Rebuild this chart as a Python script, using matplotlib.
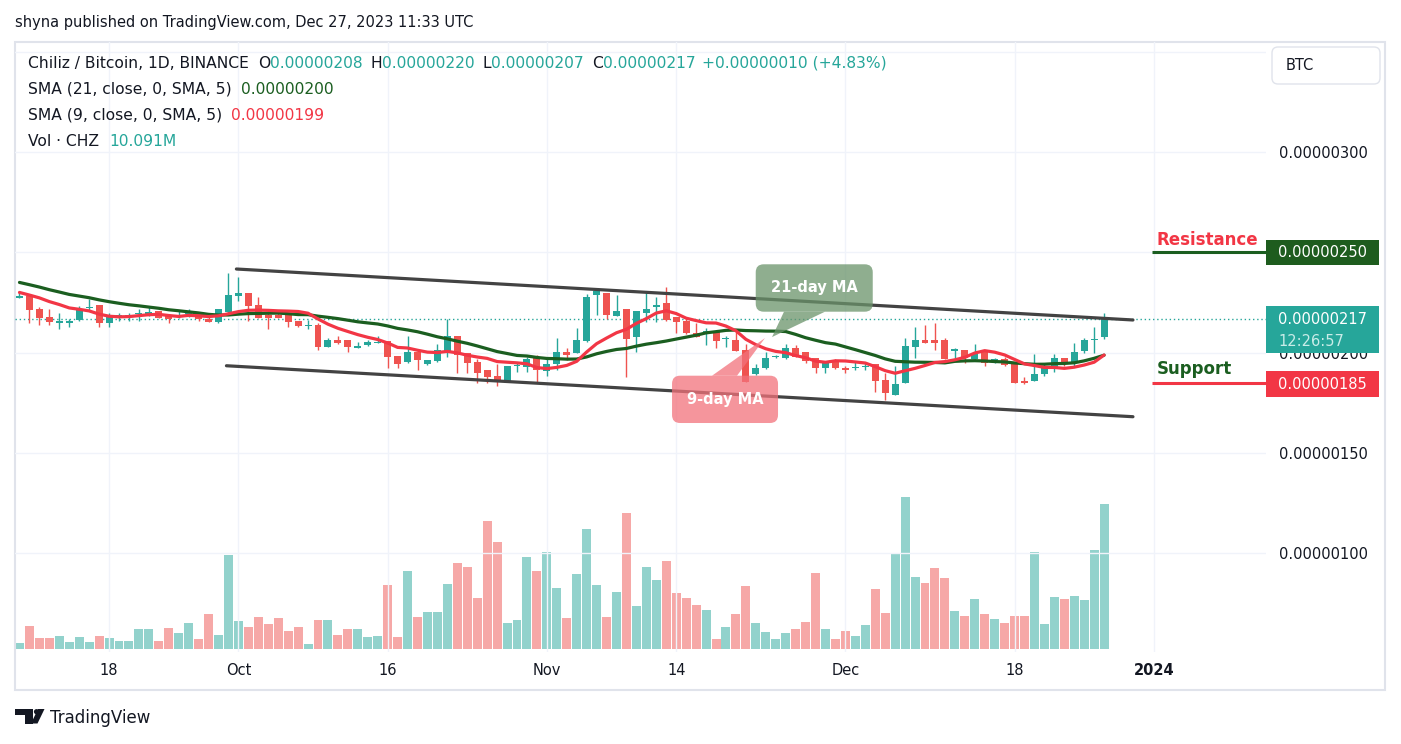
import numpy as np
import pandas as pd
import matplotlib
matplotlib.use("Agg")
import matplotlib.pyplot as plt
from matplotlib.patches import FancyBboxPatch, Polygon, Rectangle, Circle
from matplotlib.transforms import Affine2D
from matplotlib.ticker import FuncFormatter

plt.rcParams['font.family'] = ['DejaVu Sans']

# ---- data (prices in satoshi, 1e-8 BTC; volume in millions of CHZ) ----
start = "2023-09-09"
open_ = [227.5, 228.2, 221.8, 217.8, 214.6, 214.6, 216.3, 222.2, 224.0, 214.6,
         218.0, 218.0, 219.1, 219.5, 220.8, 218.8, 218.0, 219.1, 219.9, 216.8,
         215.3, 220.4, 228.4, 229.7, 223.8, 218.8, 218.8, 218.8, 215.8, 213.5,
         213.8, 203.0, 206.3, 206.3, 202.2, 203.8, 205.0, 206.0, 198.4, 195.2,
         200.5, 194.2, 196.0, 201.0, 208.3, 199.7, 195.5, 191.4, 188.4, 186.0,
         193.4, 193.0, 197.5, 191.0, 194.2, 200.3, 200.0, 205.8, 228.8, 229.6,
         218.4, 221.8, 207.7, 219.6, 222.6, 224.9, 217.9, 215.8, 209.7, 209.3,
         210.5, 206.8, 206.3, 201.3, 189.4, 192.2, 198.0, 197.2, 202.2, 200.5,
         197.2, 192.2, 195.5, 192.5, 192.5, 193.0, 194.2, 186.4, 178.9, 185.0,
         203.0, 206.3, 206.3, 206.3, 201.2, 201.3, 196.7, 200.5, 196.4, 196.7,
         195.4, 186.0, 186.0, 189.2, 192.2, 197.2, 195.0, 201.0, 206.3, 208.0]
high = [230.0, 228.5, 223.0, 221.8, 219.6, 216.8, 223.4, 226.7, 224.0, 219.6,
        219.6, 219.6, 221.8, 223.4, 220.8, 218.8, 221.3, 221.6, 220.4, 218.6,
        221.8, 239.6, 237.9, 229.7, 227.9, 221.3, 221.3, 218.8, 215.8, 216.3,
        214.6, 207.2, 208.3, 206.3, 205.5, 206.3, 208.3, 206.0, 198.4, 208.3,
        200.5, 196.4, 204.3, 216.6, 208.3, 199.7, 197.0, 191.4, 194.4, 193.4,
        194.7, 198.0, 198.9, 198.0, 207.2, 202.2, 212.5, 229.1, 232.4, 229.6,
        228.8, 221.8, 220.8, 230.7, 227.9, 232.9, 217.9, 216.6, 215.0, 212.2,
        210.5, 208.5, 210.5, 204.2, 194.4, 200.5, 198.8, 204.2, 203.8, 200.5,
        197.2, 195.5, 196.7, 193.4, 195.5, 195.5, 194.2, 189.7, 193.4, 207.2,
        213.0, 213.8, 215.0, 207.2, 202.2, 201.3, 204.2, 201.2, 197.2, 198.0,
        195.4, 188.0, 199.2, 194.7, 199.2, 197.6, 204.7, 207.2, 213.0, 220.0]
low = [227.3, 215.0, 213.8, 213.8, 211.8, 213.0, 215.8, 220.9, 213.0, 213.0,
       216.0, 216.0, 216.0, 218.4, 217.4, 215.0, 217.1, 217.9, 215.8, 215.3,
       215.0, 219.8, 225.9, 216.0, 217.4, 211.8, 217.4, 213.0, 213.0, 211.8,
       201.3, 202.6, 204.3, 200.5, 202.2, 203.3, 204.7, 192.5, 192.2, 194.8,
       191.4, 193.9, 195.5, 197.7, 189.7, 189.7, 185.0, 185.0, 183.4, 186.0,
       190.5, 190.5, 185.5, 188.4, 191.4, 196.4, 200.0, 205.3, 218.8, 216.6,
       218.4, 187.8, 200.5, 215.5, 215.5, 215.8, 209.7, 209.3, 208.0, 203.8,
       202.5, 202.7, 200.8, 185.5, 188.9, 191.7, 197.2, 196.9, 197.7, 194.7,
       189.7, 190.0, 192.0, 189.7, 191.4, 191.4, 180.5, 176.4, 178.9, 185.0,
       197.5, 204.7, 201.3, 196.7, 196.4, 194.7, 196.7, 193.4, 194.7, 193.4,
       184.8, 184.6, 186.0, 188.5, 190.5, 193.4, 192.7, 200.0, 199.7, 207.0]
close = [228.2, 221.3, 217.4, 215.3, 215.8, 215.8, 221.8, 222.8, 214.6, 218.8,
         218.5, 218.5, 219.6, 220.0, 217.4, 216.6, 218.5, 219.6, 216.6, 215.3,
         221.8, 228.7, 229.7, 223.4, 217.4, 217.4, 217.4, 215.5, 213.5, 214.0,
         203.0, 206.3, 205.0, 203.0, 203.3, 205.5, 205.5, 198.0, 194.2, 200.2,
         196.4, 196.4, 201.3, 208.3, 198.9, 195.0, 190.0, 188.0, 186.0, 193.4,
         193.6, 197.0, 191.4, 194.4, 200.3, 198.9, 206.3, 227.9, 230.7, 218.8,
         220.8, 207.0, 220.8, 221.8, 223.8, 216.3, 215.5, 210.0, 208.0, 210.8,
         206.0, 207.2, 200.8, 185.5, 192.2, 197.2, 198.2, 202.2, 198.0, 196.0,
         192.2, 195.5, 192.2, 191.4, 192.8, 193.4, 186.0, 180.0, 184.4, 203.3,
         206.3, 205.0, 205.0, 196.7, 201.4, 197.2, 199.2, 195.0, 196.6, 193.9,
         184.8, 185.0, 189.2, 193.0, 197.2, 195.0, 200.3, 206.3, 206.6, 217.0]
volume_m = [0.42, 1.60, 0.77, 0.77, 0.90, 0.49, 0.84, 0.49, 0.90, 0.77,
            0.56, 0.56, 1.39, 1.39, 0.56, 1.46, 1.11, 1.81, 0.70, 2.44,
            0.97, 6.54, 1.95, 1.53, 2.23, 1.74, 2.16, 1.25, 1.53, 0.35,
            2.02, 2.02, 0.97, 1.39, 1.39, 0.84, 0.90, 4.45, 0.84, 5.43,
            2.23, 2.57, 2.57, 4.52, 5.98, 5.71, 3.55, 8.91, 7.45, 1.81,
            2.02, 6.40, 5.43, 6.75, 4.24, 2.16, 5.22, 8.35, 4.45, 2.23,
            3.97, 9.46, 2.99, 5.71, 4.80, 6.12, 3.90, 3.55, 3.06, 2.71,
            0.70, 1.53, 2.44, 4.38, 1.81, 1.18, 0.70, 1.11, 1.39, 1.88,
            5.29, 1.39, 0.70, 1.25, 0.90, 1.67, 4.18, 2.51, 6.68, 10.58,
            5.01, 4.59, 5.64, 4.94, 2.64, 2.30, 3.48, 2.44, 2.09, 1.81,
            2.30, 2.30, 6.75, 1.74, 3.62, 3.48, 3.69, 3.41, 6.89, 10.091]
# closes before the visible window, only used to warm up the moving averages
pre_close = [245, 242, 243, 240, 241, 239, 240, 237, 238, 235,
             234, 231, 233, 230, 232, 229, 231, 228, 230, 229]

tick_dates = ["2023-09-18", "2023-10-01", "2023-10-16", "2023-11-01",
              "2023-11-14", "2023-12-01", "2023-12-18", "2024-01-01"]
tick_labels = ["18", "Oct", "16", "Nov", "14", "Dec", "18", "2024"]

resistance = 250
support = 185
last_price = 217
upper_x, upper_y = [21.8, 111.9], [241.7, 216.3]
lower_x, lower_y = [20.8, 111.9], [193.5, 168.1]

# ---- styles ----
TEAL, RED = '#26a69a', '#ef5350'
MA_RED, MA_GREEN = '#f23645', '#1b5e20'
TXT, GRID, FRAME = '#131722', '#f0f3fa', '#e0e3eb'

W, H = 1401, 744
fig = plt.figure(figsize=(W / 100, H / 100), dpi=100)
pix = Affine2D().scale(1, -1).translate(0, H)  # pixel coords, origin top-left

L, R, T, B = 15, 1266, 42, 652
ax = fig.add_axes([L / W, 1 - B / H, (R - L) / W, (B - T) / H])
axv = ax.twinx()
ax.set_zorder(axv.get_zorder() + 1)
ax.patch.set_visible(False)

x = np.arange(len(close))
o, h, l, c = map(np.array, (open_, high, low, close))
up = c >= o
col = np.where(up, TEAL, RED)

# volume
axv.bar(x, volume_m, 0.9, color=col, alpha=0.5, lw=0)
axv.set_ylim(-0.21, 42.24)
axv.set_yticks([])
for s in axv.spines.values():
    s.set_visible(False)

# candles
ax.vlines(x, l, h, color=col, lw=1, zorder=3)
body = np.abs(c - o)
doji = body < 0.6
bottom = np.where(doji, (o + c) / 2 - 0.3, np.minimum(o, c))
ax.bar(x, np.where(doji, 0.6, body), 0.7, bottom=bottom, color=col, lw=0, zorder=4)

# moving averages
allc = pd.Series(pre_close + close)
n0 = len(pre_close)
sma21 = allc.rolling(21).mean().iloc[n0:].to_numpy()
sma9 = allc.rolling(9).mean().iloc[n0:].to_numpy()
ax.plot(x, sma21, color=MA_GREEN, lw=2.3, zorder=5, solid_capstyle='round')
ax.plot(x, sma9, color=MA_RED, lw=2.3, zorder=5, solid_capstyle='round')

# channel
ax.plot(upper_x, upper_y, color='#434343', lw=2.3, zorder=6, solid_capstyle='round')
ax.plot(lower_x, lower_y, color='#434343', lw=2.3, zorder=6, solid_capstyle='round')

# last price
ax.axhline(last_price, color=TEAL, lw=1, ls=(0, (1, 2)), zorder=2)

xmax = 125.27
ax.set_xlim(-0.45, xmax)
ax.set_ylim(50.87, 354.81)

# support / resistance
ax.hlines(resistance, 113.8, xmax, color=MA_GREEN, lw=2.2, zorder=6)
ax.hlines(support, 113.8, xmax, color=MA_RED, lw=2.2, zorder=6)
ax.text(114.3, 256.3, "Resistance", color=MA_RED, fontsize=12, fontweight='bold',
        va='center', ha='left', zorder=7)
ax.text(114.3, 192.0, "Support", color=MA_GREEN, fontsize=12, fontweight='bold',
        va='center', ha='left', zorder=7)

# callouts
asp = 4.96
def callout(x0, x1, y0, y1, tail, text, color):
    box = FancyBboxPatch((x0, y0), x1 - x0, y1 - y0,
                         boxstyle="round,pad=0,rounding_size=0.8",
                         mutation_aspect=asp, fc=color, ec='none', alpha=0.75, zorder=8)
    ax.add_patch(box)
    ax.add_patch(Polygon(tail, closed=True, fc=color, ec='none', alpha=0.75, zorder=8))
    ax.text((x0 + x1) / 2, (y0 + y1) / 2, text, color='white', fontsize=10.5,
            fontweight='bold', ha='center', va='center', zorder=9)

callout(73.99, 85.75, 220.43, 244.05,
        [(76.83, 220.43), (80.95, 220.43), (75.63, 207.8)], "21-day MA", '#6a936a')
callout(65.58, 76.23, 164.97, 188.54,
        [(69.6, 188.54), (72.11, 188.54), (74.92, 207.3)], "9-day MA", '#f2727b')

# axes styling
for s in ax.spines.values():
    s.set_visible(False)
ax.yaxis.tick_right()
ax.set_yticks([100, 150, 200, 250, 300, 350])
ax.yaxis.set_major_formatter(FuncFormatter(lambda v, p: f"{v / 1e8:.8f}" if v < 320 else ""))
ax.tick_params(axis='y', length=0, pad=9.4, labelsize=10.5, labelcolor=TXT)
tick_idx = (pd.to_datetime(tick_dates) - pd.Timestamp(start)).days
ax.set_xticks(tick_idx, tick_labels)
ax.tick_params(axis='x', length=0, pad=8, labelsize=10.5, labelcolor=TXT)
ax.get_xticklabels()[-1].set_fontweight('bold')
ax.grid(color=GRID, lw=1)

# price-scale labels
ytf = ax.get_yaxis_transform()
def price_box(y0, y1, color):
    ax.add_patch(Rectangle((1.0, y0), 0.0903, y1 - y0, transform=ytf, fc=color,
                           ec='none', clip_on=False, zorder=10))
price_box(243.7, 256.2, '#1e5c1e')
ax.text(1.0096, 250, "0.00000250", transform=ytf, color='white', fontsize=10.5,
        va='center', ha='left', clip_on=False, zorder=11)
price_box(199.85, 223.3, TEAL)
ax.text(1.0096, 216.3, "0.00000217", transform=ytf, color='white', fontsize=10.5,
        va='center', ha='left', clip_on=False, zorder=11)
ax.text(1.0096, 205.6, "12:26:57", transform=ytf, color='#c9ece8', fontsize=10.5,
        va='center', ha='left', clip_on=False, zorder=11)
price_box(177.9, 190.9, '#f23645')
ax.text(1.0096, 184.4, "0.00000185", transform=ytf, color='white', fontsize=10.5,
        va='center', ha='left', clip_on=False, zorder=11)

# frame and header
fig.add_artist(Rectangle((15, 42), 1370, 648, transform=pix, fill=False, ec=FRAME, lw=1.5))
fig.add_artist(FancyBboxPatch((1272, 47), 108, 37, boxstyle="round,pad=0,rounding_size=6",
                              transform=pix, fc='white', ec=FRAME, lw=1))
fig.text(1286, 66, "BTC", transform=pix, fontsize=10.5, color=TXT, va='center')
fig.text(15, 23, "shyna published on TradingView.com, Dec 27, 2023 11:33 UTC",
         transform=pix, fontsize=10.5, color=TXT, va='center')

renderer = fig.canvas.get_renderer()
def chain(x0, y0, parts, size=11.2):
    for txt, color, gap in parts:
        t = fig.text(x0, y0, txt, transform=pix, fontsize=size, color=color, va='center')
        x0 += t.get_window_extent(renderer).width + gap

chain(28, 63, [("Chiliz / Bitcoin, 1D, BINANCE", TXT, 9),
               ("O", TXT, 0), ("0.00000208", TEAL, 8),
               ("H", TXT, 0), ("0.00000220", TEAL, 8),
               ("L", TXT, 0), ("0.00000207", TEAL, 8),
               ("C", TXT, 0), ("0.00000217", TEAL, 6),
               ("+0.00000010 (+4.83%)", TEAL, 0)])
chain(28, 89, [("SMA (21, close, 0, SMA, 5)", TXT, 9), ("0.00000200", MA_GREEN, 0)])
chain(28, 115, [("SMA (9, close, 0, SMA, 5)", TXT, 9), ("0.00000199", MA_RED, 0)])
chain(28, 141, [("Vol · CHZ", TXT, 10), ("10.091M", TEAL, 0)])

# TradingView logo
fig.add_artist(Polygon([(15, 709), (32.5, 709), (32.5, 723.5), (25, 723.5), (25, 714.5), (15, 714.5)],
                       transform=pix, fc=TXT, ec='none'))
fig.add_artist(Circle((36.5, 711.7), 2.6, transform=pix, fc=TXT, ec='none'))
fig.add_artist(Polygon([(38, 709), (44.5, 709), (37.5, 723.5), (31, 723.5)],
                       transform=pix, fc=TXT, ec='none'))
fig.text(50, 718, "TradingView", transform=pix, fontsize=12, color=TXT, va='center')

fig.savefig("out.png", dpi=100, facecolor='white')
